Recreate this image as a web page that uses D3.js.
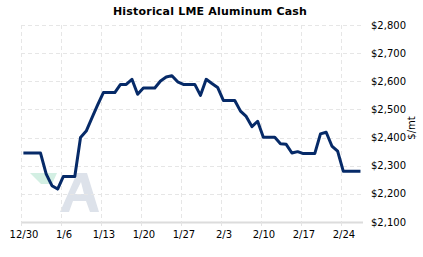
<!DOCTYPE html>
<html>
<head>
<meta charset="utf-8">
<script src="https://cdn.jsdelivr.net/npm/d3@7"></script>
<style>
  body { margin: 0; background: #fff; }
  svg { display: block; }
  text { font-family: "DejaVu Sans", Verdana, sans-serif; fill: #000; }
</style>
</head>
<body>
<svg id="chart" width="423" height="257"></svg>
<script>
// daily cash settlement, weekends/holidays carry the last price
const dates = [
  "2022-12-30","2022-12-31","2023-01-01","2023-01-02","2023-01-03","2023-01-04","2023-01-05","2023-01-06",
  "2023-01-07","2023-01-08","2023-01-09","2023-01-10","2023-01-11","2023-01-12","2023-01-13","2023-01-14",
  "2023-01-15","2023-01-16","2023-01-17","2023-01-18","2023-01-19","2023-01-20","2023-01-21","2023-01-22",
  "2023-01-23","2023-01-24","2023-01-25","2023-01-26","2023-01-27","2023-01-28","2023-01-29","2023-01-30",
  "2023-01-31","2023-02-01","2023-02-02","2023-02-03","2023-02-04","2023-02-05","2023-02-06","2023-02-07",
  "2023-02-08","2023-02-09","2023-02-10","2023-02-11","2023-02-12","2023-02-13","2023-02-14","2023-02-15",
  "2023-02-16","2023-02-17","2023-02-18","2023-02-19","2023-02-20","2023-02-21","2023-02-22","2023-02-23",
  "2023-02-24","2023-02-25","2023-02-26","2023-02-27"
];
const prices = [
  2345, 2345, 2345, 2345, 2270, 2229, 2217, 2262,
  2262, 2262, 2400, 2423, 2470, 2516, 2560, 2560,
  2560, 2589, 2589, 2607, 2554, 2576, 2576, 2576,
  2601, 2615, 2620, 2598, 2589, 2589, 2589, 2550,
  2607, 2592, 2578, 2532, 2532, 2532, 2494, 2475,
  2439, 2458, 2401, 2401, 2401, 2378, 2376, 2345,
  2350, 2343, 2343, 2343, 2413, 2419, 2370, 2352,
  2280, 2280, 2280, 2280
];
const xTickDates = ["2022-12-30","2023-01-06","2023-01-13","2023-01-20","2023-01-27","2023-02-03","2023-02-10","2023-02-17","2023-02-24"];
const xTickLabels = ["12/30","1/6","1/13","1/20","1/27","2/3","2/10","2/17","2/24"];
const yTicks = [2100, 2200, 2300, 2400, 2500, 2600, 2700, 2800];

const svg = d3.select('#chart');
const margin = { top: 25, left: 21, right: 59, bottom: 35 };
const innerBottom = 222;

const parseDay = d3.timeParse('%Y-%m-%d');
// prices are fixed late morning, so points sit a little right of midnight ticks
const data = dates.map((d, i) => ({ date: d3.timeHour.offset(parseDay(d), 10), price: prices[i] }));

const x = d3.scaleTime()
  .domain([parseDay("2022-12-30"), parseDay("2023-02-28")])
  .range([margin.left, 363.8]);
const y = d3.scaleLinear()
  .domain([2100, 2800])
  .range([innerBottom, margin.top]);

svg.append('text')
  .attr('x', 210).attr('y', 15)
  .attr('text-anchor', 'middle')
  .style('font-weight', 'bold')
  .style('font-size', '11px')
  .style('letter-spacing', '0.2px')
  .text('Historical LME Aluminum Cash');

// watermark logo
const logo = svg.append('g');
logo.append('path')
  .attr('d', 'M30,173 L57,173 L52,184 L41,184 Z')
  .attr('fill', '#d3efe3');
logo.append('path')
  .attr('d', 'M60,212 L77,173 L87,173 L99,212 L90,212 L86,201 L73,201 L69,212 Z M75,194 L84,194 L81,182 Z')
  .attr('fill', '#dde2ea')
  .attr('fill-rule', 'evenodd');

// grid
const grid = svg.append('g').attr('stroke', '#e6e6e6').attr('stroke-dasharray', '4,3').attr('fill', 'none');
grid.selectAll('line.h')
  .data(yTicks.filter(v => v > 2100))
  .enter().append('line')
  .attr('x1', margin.left).attr('x2', 363)
  .attr('y1', d => Math.round(y(d)) + 0.5).attr('y2', d => Math.round(y(d)) + 0.5);
grid.selectAll('line.v')
  .data(xTickDates)
  .enter().append('line')
  .attr('x1', d => Math.round(x(parseDay(d))) + 0.5).attr('x2', d => Math.round(x(parseDay(d))) + 0.5)
  .attr('y1', margin.top).attr('y2', innerBottom);

// baseline + small ticks
svg.append('line')
  .attr('x1', margin.left).attr('x2', 363)
  .attr('y1', innerBottom + 0.5).attr('y2', innerBottom + 0.5)
  .attr('stroke', '#dcdcdc').attr('stroke-width', 2);
svg.selectAll('line.tick')
  .data(xTickDates)
  .enter().append('line')
  .attr('x1', d => Math.round(x(parseDay(d))) + 0.5).attr('x2', d => Math.round(x(parseDay(d))) + 0.5)
  .attr('y1', innerBottom).attr('y2', innerBottom + 4)
  .attr('stroke', '#e4e4e4');

// x labels
svg.selectAll('text.xl')
  .data(xTickDates)
  .enter().append('text')
  .attr('x', d => x(parseDay(d)) + 3)
  .attr('y', 238)
  .attr('text-anchor', 'middle')
  .style('font-size', '10px')
  .text((d, i) => xTickLabels[i]);

// y labels on the right
const fmt = d3.format('$,');
svg.selectAll('text.yl')
  .data(yTicks)
  .enter().append('text')
  .attr('x', 371)
  .attr('y', d => y(d) + 3.5)
  .style('font-size', '10px')
  .text(d => fmt(d));

svg.append('text')
  .attr('transform', 'translate(415,128) rotate(-90)')
  .attr('text-anchor', 'middle')
  .style('font-size', '10px')
  .text('$/mt');

const line = d3.line()
  .x(d => x(d.date))
  .y(d => y(d.price));

svg.append('path')
  .datum(data)
  .attr('d', line)
  .attr('fill', 'none')
  .attr('stroke', '#062a68')
  .attr('stroke-width', 3)
  .attr('stroke-linejoin', 'round');
</script>
</body>
</html>
